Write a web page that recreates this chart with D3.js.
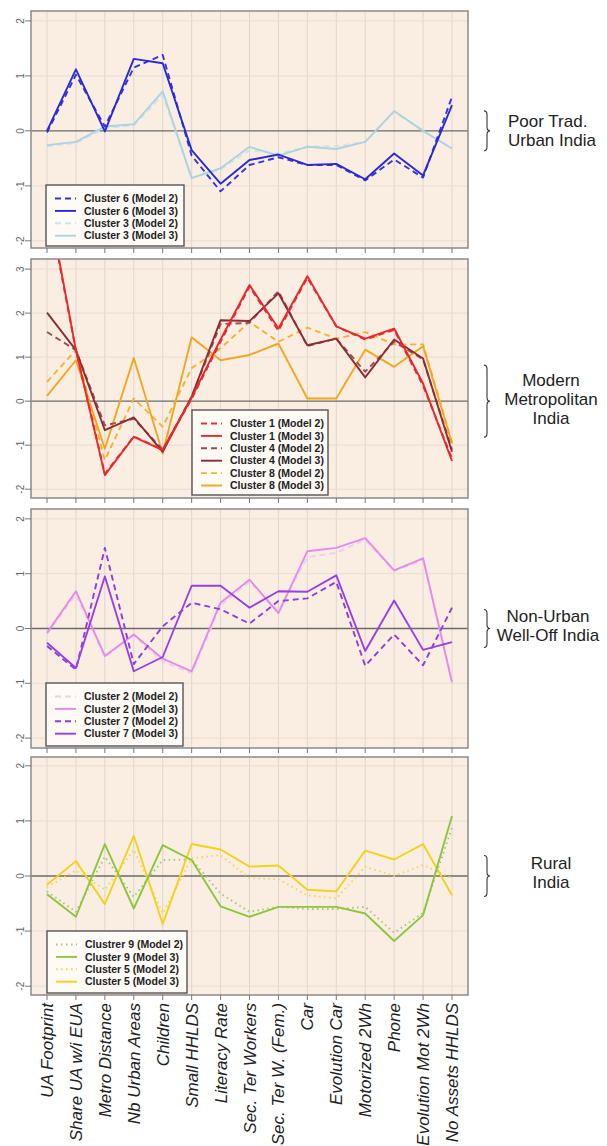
<!DOCTYPE html>
<html>
<head>
<meta charset="utf-8">
<script src="https://cdn.jsdelivr.net/npm/d3@7"></script>
<style>
  body { margin: 0; background: #fff; }
  svg { display: block; font-family: "Liberation Sans", Arial, sans-serif; }
</style>
</head>
<body>
<div class="wrapper"></div>
<script>
var categories = ["UA Footprint", "Share UA w/i EUA", "Metro Distance", "Nb Urban Areas",
  "Children", "Small HHLDS", "Literacy Rate", "Sec. Ter Workers", "Sec. Ter W. (Fem.)",
  "Car", "Evolution Car", "Motorized 2Wh", "Phone", "Evolution Mot 2Wh", "No Assets HHLDS"];

// Poor Trad. Urban India
var c6m2 = [-0.03, 1.02, 0.08, 1.15, 1.38, -0.45, -1.1, -0.62, -0.48, -0.62, -0.62, -0.9, -0.52, -0.85, 0.62];
var c6m3 = [0.0, 1.12, -0.01, 1.31, 1.23, -0.35, -0.96, -0.53, -0.43, -0.62, -0.6, -0.88, -0.41, -0.81, 0.47];
var c3m2 = [-0.28, -0.22, 0.05, 0.1, 0.65, -0.85, -0.7, -0.35, -0.42, -0.28, -0.28, -0.2, 0.35, 0.0, -0.32];
var c3m3 = [-0.26, -0.2, 0.08, 0.12, 0.72, -0.86, -0.68, -0.29, -0.45, -0.29, -0.33, -0.2, 0.36, 0.0, -0.32];

// Modern Metropolitan India
var c1m2 = [4.6, 1.15, -1.65, -0.8, -1.1, 0.05, 1.35, 2.6, 1.6, 2.8, 1.7, 1.4, 1.62, 0.35, -1.3];
var c1m3 = [4.7, 1.16, -1.68, -0.81, -1.11, 0.08, 1.4, 2.64, 1.65, 2.84, 1.7, 1.42, 1.65, 0.4, -1.36];
var c4m2 = [1.57, 1.16, -0.55, -0.4, -1.1, 0.1, 1.75, 1.78, 2.5, 1.25, 1.42, 0.67, 1.35, 0.95, -1.1];
var c4m3 = [2.01, 1.16, -0.66, -0.37, -1.15, 0.1, 1.84, 1.82, 2.45, 1.27, 1.42, 0.54, 1.4, 0.97, -1.15];
var c8m2 = [0.44, 1.16, -1.34, 0.06, -0.58, 0.75, 1.2, 1.8, 1.35, 1.67, 1.42, 1.57, 1.29, 1.29, -0.93];
var c8m3 = [0.12, 0.93, -1.08, 0.98, -1.19, 1.45, 0.93, 1.05, 1.31, 0.06, 0.06, 1.17, 0.78, 1.25, -0.96];

// Non-Urban Well-Off India
var c2m2 = [-0.1, 0.62, -0.52, -0.12, -0.6, -0.82, 0.42, 0.85, 0.32, 1.3, 1.38, 1.62, 1.05, 1.25, -0.95];
var c2m3 = [-0.08, 0.68, -0.5, -0.11, -0.55, -0.78, 0.47, 0.89, 0.28, 1.41, 1.47, 1.65, 1.06, 1.28, -0.98];
var c7m2 = [-0.32, -0.75, 1.47, -0.65, 0.04, 0.47, 0.35, 0.09, 0.5, 0.55, 0.85, -0.68, -0.11, -0.67, 0.38];
var c7m3 = [-0.26, -0.72, 0.95, -0.78, -0.52, 0.78, 0.78, 0.38, 0.68, 0.67, 0.97, -0.41, 0.51, -0.39, -0.25];

// Rural India
var c9m2 = [-0.28, -0.65, 0.35, -0.38, 0.29, 0.3, -0.32, -0.65, -0.56, -0.6, -0.6, -0.56, -1.03, -0.67, 0.88];
var c9m3 = [-0.33, -0.74, 0.58, -0.59, 0.56, 0.29, -0.55, -0.74, -0.56, -0.56, -0.56, -0.68, -1.18, -0.71, 1.09];
var c5m2 = [-0.2, 0.1, -0.25, 0.48, -0.68, 0.32, 0.38, -0.04, -0.06, -0.35, -0.41, 0.17, 0.0, 0.2, -0.04];
var c5m3 = [-0.16, 0.27, -0.51, 0.73, -0.87, 0.58, 0.48, 0.17, 0.19, -0.25, -0.28, 0.46, 0.3, 0.58, -0.35];

var yTicks = [-2, -1, 0, 1, 2];
var yTicksMetro = [-2, -1, 0, 1, 2, 3];

var groupLabels = [
  ["Poor Trad.", "Urban India"],
  ["Modern", "Metropolitan", "India"],
  ["Non-Urban", "Well-Off India"],
  ["Rural", "India"]
];

var dash = "6,4", dot = "1.5,3.5";

var panels = [
  { top: 11, bottom: 248, domain: [-2.13, 2.18], ticks: yTicks, label: groupLabels[0], align: "start", labelX: 508, base: 127,
    legend: { x: 46, y: 185, w: 138, h: 61 },
    series: [
      { name: "Cluster 6 (Model 2)", values: c6m2, color: "#3434DC", dash: dash },
      { name: "Cluster 6 (Model 3)", values: c6m3, color: "#2A2AD4", dash: null },
      { name: "Cluster 3 (Model 2)", values: c3m2, color: "#CFE3EA", dash: dash },
      { name: "Cluster 3 (Model 3)", values: c3m3, color: "#ADD3DD", dash: null }
    ], order: [2, 3, 0, 1], brace: 40 },
  { top: 259, bottom: 498, domain: [-2.2, 3.23], ticks: yTicksMetro, label: groupLabels[1], align: "middle", labelX: 551, base: 386,
    legend: { x: 192, y: 410, w: 136, h: 85 },
    series: [
      { name: "Cluster 1 (Model 2)", values: c1m2, color: "#E3323E", dash: dash },
      { name: "Cluster 1 (Model 3)", values: c1m3, color: "#EA2828", dash: null },
      { name: "Cluster 4 (Model 2)", values: c4m2, color: "#9C4E54", dash: dash },
      { name: "Cluster 4 (Model 3)", values: c4m3, color: "#8C2C34", dash: null },
      { name: "Cluster 8 (Model 2)", values: c8m2, color: "#F5B236", dash: dash },
      { name: "Cluster 8 (Model 3)", values: c8m3, color: "#F2A71E", dash: null }
    ], order: [4, 5, 2, 3, 0, 1], brace: 72 },
  { top: 509, bottom: 748, domain: [-2.18, 2.18], ticks: yTicks, label: groupLabels[2], align: "middle", labelX: 548, base: 622,
    legend: { x: 46, y: 683, w: 137, h: 63 },
    series: [
      { name: "Cluster 2 (Model 2)", values: c2m2, color: "#F0CDF0", dash: dash },
      { name: "Cluster 2 (Model 3)", values: c2m3, color: "#E48AE8", dash: null },
      { name: "Cluster 7 (Model 2)", values: c7m2, color: "#8E3EDC", dash: dash },
      { name: "Cluster 7 (Model 3)", values: c7m3, color: "#9A3FE4", dash: null }
    ], order: [0, 1, 2, 3], brace: 38 },
  { top: 757, bottom: 995, domain: [-2.16, 2.16], ticks: yTicks, label: groupLabels[3], align: "middle", labelX: 551, base: 869,
    legend: { x: 47, y: 931, w: 140, h: 62 },
    series: [
      { name: "Clustrer 9 (Model 2)", values: c9m2, color: "#A9C472", dash: dot },
      { name: "Cluster 9 (Model 3)", values: c9m3, color: "#8CC53E", dash: null },
      { name: "Cluster 5 (Model 2)", values: c5m2, color: "#F2D456", dash: dot },
      { name: "Cluster 5 (Model 3)", values: c5m3, color: "#F3D21A", dash: null }
    ], order: [2, 3, 0, 1], brace: 41 }
];

var W = 607, H = 1146;
var frameL = 31, frameR = 468;

var svg = d3.select(".wrapper").append("svg")
  .attr("width", W)
  .attr("height", H);

var x = d3.scalePoint().domain(categories).range([47, 452]);

function bracePath (x0, ym, h, w) {
  var y1 = ym - h / 2, y2 = ym + h / 2, xm = x0 + w / 2, r = 4;
  return "M" + x0 + "," + y1 +
    "Q" + xm + "," + y1 + " " + xm + "," + (y1 + r) +
    "L" + xm + "," + (ym - r) +
    "Q" + xm + "," + ym + " " + (x0 + w) + "," + ym +
    "Q" + xm + "," + ym + " " + xm + "," + (ym + r) +
    "L" + xm + "," + (y2 - r) +
    "Q" + xm + "," + y2 + " " + x0 + "," + y2;
}

panels.forEach(function (p, k) {
  var y = d3.scaleLinear().domain(p.domain).range([p.bottom, p.top]);
  var g = svg.append("g");

  g.append("rect")
    .attr("x", frameL).attr("y", p.top)
    .attr("width", frameR - frameL).attr("height", p.bottom - p.top)
    .attr("fill", "#FAEEE3");

  // grid
  g.selectAll("line.vg").data(categories).enter().append("line")
    .attr("x1", function (d) { return x(d); }).attr("x2", function (d) { return x(d); })
    .attr("y1", p.top).attr("y2", p.bottom)
    .attr("stroke", "#DCD6D0").attr("stroke-width", 1);
  g.selectAll("line.hg").data(p.ticks.filter(function (t) { return t !== 0; })).enter().append("line")
    .attr("x1", frameL).attr("x2", frameR)
    .attr("y1", function (d) { return y(d); }).attr("y2", function (d) { return y(d); })
    .attr("stroke", "#E6DDD4").attr("stroke-width", 1);

  g.append("line")
    .attr("x1", frameL).attr("x2", frameR)
    .attr("y1", y(0)).attr("y2", y(0))
    .attr("stroke", "#6A6A6A").attr("stroke-width", 1.3);

  // lines
  var clipId = "clip" + k;
  svg.append("clipPath").attr("id", clipId).append("rect")
    .attr("x", frameL).attr("y", p.top)
    .attr("width", frameR - frameL).attr("height", p.bottom - p.top);

  var line = d3.line()
    .x(function (d, i) { return x(categories[i]); })
    .y(function (d) { return y(d); });

  g.append("g").attr("clip-path", "url(#" + clipId + ")")
    .selectAll("path").data(p.order.map(function (i) { return p.series[i]; })).enter().append("path")
    .attr("d", function (s) { return line(s.values); })
    .attr("fill", "none")
    .attr("stroke", function (s) { return s.color; })
    .attr("stroke-width", 1.9)
    .attr("stroke-dasharray", function (s) { return s.dash; })
    .attr("stroke-linejoin", "round");

  // frame
  g.append("rect")
    .attr("x", frameL).attr("y", p.top)
    .attr("width", frameR - frameL).attr("height", p.bottom - p.top)
    .attr("fill", "none").attr("stroke", "#8A8A8A").attr("stroke-width", 1.5);

  // y axis
  g.selectAll("line.yt").data(p.ticks).enter().append("line")
    .attr("x1", frameL - 6).attr("x2", frameL)
    .attr("y1", function (d) { return y(d); }).attr("y2", function (d) { return y(d); })
    .attr("stroke", "#777");
  g.selectAll("text.yl").data(p.ticks).enter().append("text")
    .attr("transform", function (d) { return "translate(24," + y(d) + ") rotate(-90)"; })
    .attr("text-anchor", "middle")
    .attr("font-size", 10)
    .attr("fill", "#666")
    .text(function (d) { return d; });

  // bottom ticks
  g.selectAll("line.xt").data(categories).enter().append("line")
    .attr("x1", function (d) { return x(d); }).attr("x2", function (d) { return x(d); })
    .attr("y1", p.bottom).attr("y2", p.bottom + 5)
    .attr("stroke", "#777");

  // legend
  var L = p.legend;
  var lg = g.append("g");
  lg.append("rect")
    .attr("x", L.x).attr("y", L.y).attr("width", L.w).attr("height", L.h)
    .attr("fill", "#FEFAF6").attr("stroke", "#555").attr("stroke-width", 1.4);
  var rowH = (L.h - 12) / (p.series.length - 0.0) ;
  var rows = lg.selectAll("g").data(p.series).enter().append("g")
    .attr("transform", function (s, i) { return "translate(" + L.x + "," + (L.y + 13.5 + i * 12.4) + ")"; });
  rows.append("line")
    .attr("x1", 9).attr("x2", 30)
    .attr("stroke", function (s) { return s.color; })
    .attr("stroke-width", 1.9)
    .attr("stroke-dasharray", function (s) { return s.dash; });
  rows.append("text")
    .attr("x", 38).attr("dy", "0.36em")
    .attr("font-size", 10.5).attr("font-weight", "bold")
    .attr("fill", "#222")
    .text(function (s) { return s.name; });

  // brace and group label
  g.append("path")
    .attr("d", bracePath(484, y(0), p.brace, 6))
    .attr("fill", "none").attr("stroke", "#333").attr("stroke-width", 1.1);
  g.selectAll("text.grp").data(p.label).enter().append("text")
    .attr("x", p.labelX)
    .attr("y", function (d, i) { return p.base + i * 19; })
    .attr("text-anchor", p.align)
    .attr("font-size", 17)
    .attr("fill", "#222")
    .text(function (d) { return d; });
});

// category labels
svg.selectAll("text.cat").data(categories).enter().append("text")
  .attr("transform", function (d) { return "translate(" + (x(d) + 6) + ",1003) rotate(-90)"; })
  .attr("text-anchor", "end")
  .attr("font-size", 17)
  .attr("font-style", "italic")
  .attr("fill", "#222")
  .text(function (d) { return d; });
</script>
</body>
</html>
